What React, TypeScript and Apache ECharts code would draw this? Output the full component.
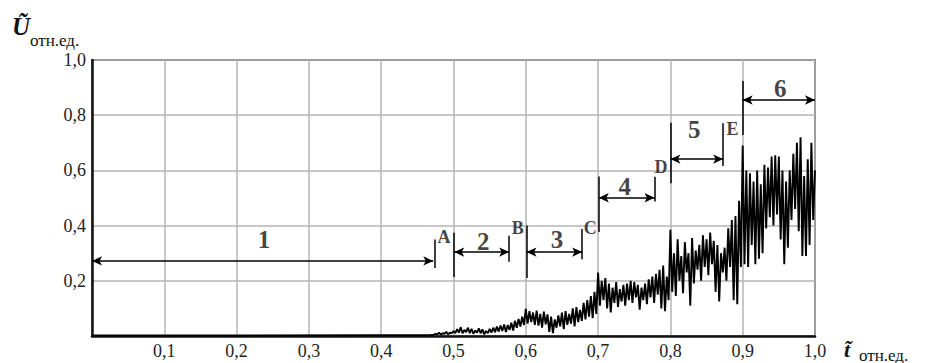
import React, { useEffect, useRef } from "react";
import * as echarts from "echarts";

// x-axis / y-axis ticks
const xTicks = [0, 0.1, 0.2, 0.3, 0.4, 0.5, 0.6, 0.7, 0.8, 0.9, 1.0];
const yTicks = [0, 0.2, 0.4, 0.6, 0.8, 1.0];

// flat part of the signal before the rise
const flatT = [0, 0.2, 0.4, 0.46];
const flatU = [0.002, 0.002, 0.003, 0.003];

// oscillating signal: each stroke goes from a low to a high value
const signalStart = 0.4675;
const signalStep = 0.005;
const strokeLow = [
  0.003, 0.004, 0.006, 0.005, 0.008, 0.006, 0.010,
  0.010, 0.012, 0.010, 0.014, 0.010, 0.008, 0.012, 0.010, 0.006, 0.010,
  0.012, 0.014, 0.016, 0.018, 0.014, 0.022, 0.020, 0.030, 0.034, 0.040,
  0.045, 0.050, 0.040, 0.038, 0.030, 0.042, 0.015, 0.010, 0.030, 0.035,
  0.025, 0.040, 0.045, 0.035, 0.050, 0.055, 0.060, 0.070, 0.065, 0.080,
  0.110, 0.130, 0.100, 0.085, 0.120, 0.105, 0.125, 0.110, 0.130, 0.120,
  0.140, 0.095, 0.130, 0.115, 0.140, 0.120, 0.150, 0.100, 0.090, 0.130,
  0.160, 0.145, 0.200, 0.155, 0.230, 0.110, 0.190, 0.240, 0.200, 0.250,
  0.220, 0.260, 0.160, 0.125, 0.230, 0.200, 0.250, 0.130, 0.115, 0.250,
  0.260, 0.250, 0.330, 0.260, 0.280, 0.300, 0.390, 0.430, 0.400, 0.440,
  0.350, 0.260, 0.320, 0.420, 0.460, 0.380, 0.290, 0.290, 0.330, 0.420,
];
const strokeHigh = [
  0.004, 0.008, 0.012, 0.010, 0.015, 0.012, 0.018,
  0.025, 0.032, 0.022, 0.030, 0.026, 0.020, 0.028, 0.024, 0.018, 0.026,
  0.030, 0.034, 0.038, 0.042, 0.040, 0.048, 0.055, 0.062, 0.070, 0.098,
  0.090, 0.085, 0.092, 0.080, 0.088, 0.078, 0.070, 0.060, 0.075, 0.085,
  0.090, 0.080, 0.100, 0.105, 0.095, 0.120, 0.130, 0.145, 0.160, 0.230,
  0.200, 0.210, 0.190, 0.175, 0.195, 0.170, 0.185, 0.190, 0.200, 0.195,
  0.185, 0.175, 0.190, 0.205, 0.215, 0.225, 0.240, 0.255, 0.215, 0.385,
  0.300, 0.350, 0.290, 0.340, 0.300, 0.355, 0.310, 0.330, 0.365, 0.350,
  0.375, 0.345, 0.330, 0.300, 0.320, 0.390, 0.420, 0.435, 0.490, 0.690,
  0.600, 0.590, 0.560, 0.600, 0.550, 0.620, 0.610, 0.650, 0.655, 0.650,
  0.600, 0.560, 0.600, 0.660, 0.700, 0.720, 0.580, 0.640, 0.700, 0.600,
];

// interval arrows (segments 1..6)
const arrowStartT = [0, 0.501, 0.601, 0.701, 0.8, 0.9];
const arrowEndT = [0.472, 0.577, 0.678, 0.778, 0.873, 1.0];
const arrowU = [0.272, 0.304, 0.304, 0.501, 0.641, 0.855];

// vertical marker lines
const markerT = [0.474, 0.501, 0.577, 0.601, 0.678, 0.701, 0.778, 0.8, 0.873, 0.9];
const markerLow = [0.246, 0.214, 0.269, 0.21, 0.278, 0.377, 0.487, 0.553, 0.616, 0.728];
const markerHigh = [0.35, 0.374, 0.363, 0.4, 0.388, 0.578, 0.577, 0.773, 0.771, 0.924];

// segment numbers
const segmentNames = ["1", "2", "3", "4", "5", "6"];
const segmentNameT = [0.238, 0.541, 0.643, 0.737, 0.833, 0.952];
const segmentNameU = [0.348, 0.341, 0.348, 0.543, 0.75, 0.898];

// point letters
const pointNames = ["A", "B", "C", "D", "E"];
const pointNameT = [0.487, 0.589, 0.689, 0.787, 0.886];
const pointNameU = [0.359, 0.391, 0.391, 0.612, 0.75];

const SERIF = "Liberation Serif";

const fmt = (v: number) => (Math.abs(v) < 1e-9 ? "" : v.toFixed(1).replace(".", ","));

export default function App() {
  const ref = useRef<HTMLDivElement>(null);

  useEffect(() => {
    if (!ref.current) return;
    const chart = echarts.init(ref.current, null, { renderer: "svg" });

    const signal: number[][] = flatT.map((t, i) => [t, flatU[i]]);
    strokeLow.forEach((lo, i) => {
      const t = signalStart + signalStep * i;
      signal.push([t, lo]);
      signal.push([t + signalStep / 2, strokeHigh[i]]);
    });

    const markData: any[] = [];
    arrowU.forEach((u, i) => {
      markData.push([
        { coord: [arrowStartT[i], u], symbol: "arrow" },
        { coord: [arrowEndT[i], u], symbol: "arrow" },
      ]);
    });
    markerT.forEach((t, i) => {
      markData.push([
        { coord: [t, markerLow[i]], symbol: "none" },
        { coord: [t, markerHigh[i]], symbol: "none" },
      ]);
    });

    const txt = (text: string, x: number, y: number, size: number, extra: string, align = "left") => ({
      type: "text",
      x,
      y,
      silent: true,
      style: {
        text,
        fontFamily: SERIF,
        fontSize: size,
        fontStyle: extra.includes("italic") ? "italic" : "normal",
        fontWeight: extra.includes("bold") ? "bold" : "normal",
        fill: "#111",
        align,
        verticalAlign: "middle",
      },
    });

    const makeLabel = () => ({
      formatter: fmt,
      fontFamily: SERIF,
      fontSize: 18,
      color: "#222",
      margin: 6,
      showMaxLabel: true,
    });

    const option: any = {
      animation: false,
      backgroundColor: "#ffffff",
      textStyle: { fontFamily: SERIF },
      grid: {
        left: 92,
        right: 111,
        top: 60,
        bottom: 27,
        show: true,
        borderColor: "#222",
        borderWidth: 1.5,
        backgroundColor: "transparent",
        containLabel: false,
        outerBoundsMode: "none",
      },
      xAxis: {
        type: "value",
        min: xTicks[0],
        max: xTicks[xTicks.length - 1],
        interval: 0.1,
        axisLine: { show: true, onZero: false, lineStyle: { color: "#111", width: 2.5 } },
        axisTick: { show: false },
        splitLine: { show: true, lineStyle: { color: "#b4b4b4", width: 1.5 } },
        axisLabel: makeLabel(),
      },
      yAxis: {
        type: "value",
        min: yTicks[0],
        max: yTicks[yTicks.length - 1],
        interval: 0.2,
        axisLine: { show: true, onZero: false, lineStyle: { color: "#111", width: 2.5 } },
        axisTick: { show: false },
        splitLine: { show: true, lineStyle: { color: "#b4b4b4", width: 1.5 } },
        axisLabel: makeLabel(),
      },
      series: [
        {
          type: "line",
          data: signal,
          symbol: "none",
          lineStyle: { color: "#000", width: 1.9 },
          clip: true,
          z: 3,
        },
        {
          type: "line",
          data: [],
          symbol: "none",
          markLine: {
            silent: true,
            animation: false,
            symbolSize: [7, 10],
            label: { show: false },
            lineStyle: { color: "#000", width: 1.5, type: "solid" },
            emphasis: { disabled: true },
            data: markData,
          },
          z: 4,
        },
        {
          type: "scatter",
          data: segmentNames.map((n, i) => [segmentNameT[i], segmentNameU[i], n]),
          symbolSize: 1,
          itemStyle: { color: "rgba(0,0,0,0)" },
          silent: true,
          label: {
            show: true,
            position: "inside",
            formatter: (p: any) => p.data[2],
            fontFamily: SERIF,
            fontWeight: "bold",
            fontSize: 25,
            color: "#111",
          },
          z: 5,
        },
        {
          type: "scatter",
          data: pointNames.map((n, i) => [pointNameT[i], pointNameU[i], n]),
          symbolSize: 1,
          itemStyle: { color: "rgba(0,0,0,0)" },
          silent: true,
          label: {
            show: true,
            position: "inside",
            formatter: (p: any) => p.data[2],
            fontFamily: SERIF,
            fontWeight: "bold",
            fontSize: 18,
            color: "#111",
          },
          z: 5,
        },
      ],
      graphic: [
        txt("\u0168", 12, 26, 25, "italic bold"),
        txt("отн.ед.", 30, 40, 17, ""),
        txt("t\u0303", 844, 349, 22, "italic bold"),
        txt("отн.ед.", 859, 355, 17, ""),
      ],
    };

    chart.setOption(option);
    return () => chart.dispose();
  }, []);

  return (
    <div
      ref={ref}
      style={{ position: "fixed", left: 0, top: 0, width: 926, height: 363, background: "#fff" }}
    />
  );
}
